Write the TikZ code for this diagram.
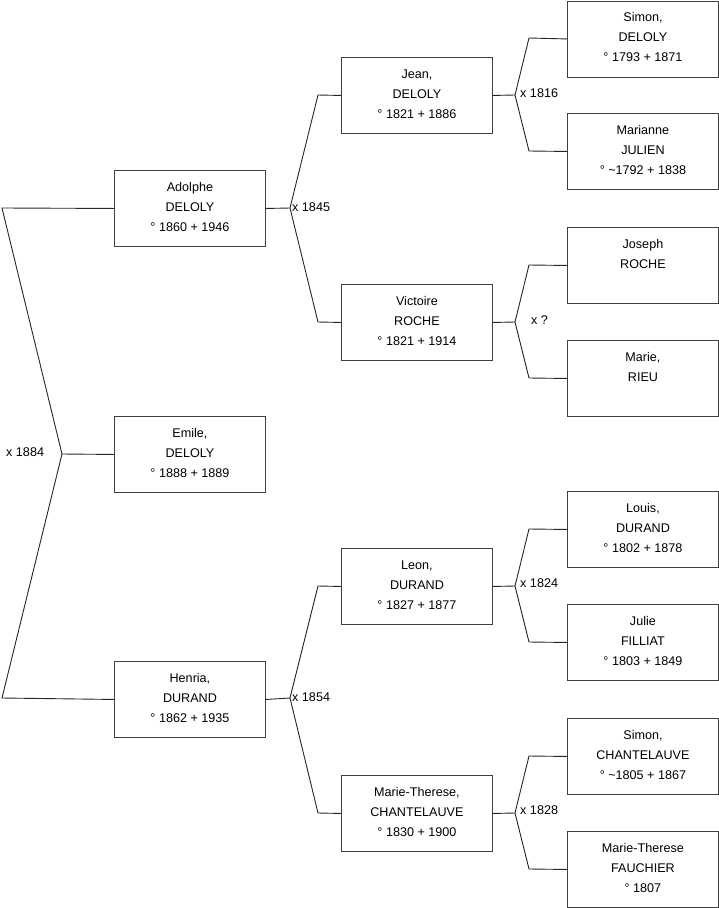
\documentclass[tikz,border=0pt]{standalone}
\usepackage{fontspec}
\setmainfont{Liberation Sans}
\newcommand{\personbox}[1]{\parbox[t][76pt][t]{151pt}{\centering\fontsize{12.6}{20}\selectfont\rule{0pt}{21pt}#1}}
\tikzset{
  person/.style={draw=black!75, line width=0.9pt, inner sep=0pt, anchor=north west, fill=white},
  link/.style={draw=black!85, line width=0.9pt},
  marr/.style={inner sep=0pt, anchor=west, font=\fontsize{12.6}{14}\selectfont}
}
\begin{document}
\begin{tikzpicture}[x=1pt,y=-1pt]
\useasboundingbox (0,0) rectangle (719,908);
% column 1
\node[person] (adolphe) at (114,170) {\personbox{Adolphe\\DELOLY\\° 1860 + 1946}};
\node[person] (emile) at (114,416) {\personbox{Emile,\\DELOLY\\° 1888 + 1889}};
\node[person] (henria) at (114,661) {\personbox{Henria,\\DURAND\\° 1862 + 1935}};
% column 2
\node[person] (jean) at (341,57) {\personbox{Jean,\\DELOLY\\° 1821 + 1886}};
\node[person] (victoire) at (341,284) {\personbox{Victoire\\ROCHE\\° 1821 + 1914}};
\node[person] (leon) at (341,548) {\personbox{Leon,\\DURAND\\° 1827 + 1877}};
\node[person] (mtherese) at (341,775) {\personbox{Marie-Therese,\\CHANTELAUVE\\° 1830 + 1900}};
% column 3
\node[person] (simon) at (567,0.5) {\personbox{Simon,\\DELOLY\\° 1793 + 1871}};
\node[person] (marianne) at (567,113) {\personbox{Marianne\\JULIEN\\° \textasciitilde1792 + 1838}};
\node[person] (joseph) at (567,227) {\personbox{Joseph\\ROCHE}};
\node[person] (marie) at (567,340) {\personbox{Marie,\\RIEU}};
\node[person] (louis) at (567,491) {\personbox{Louis,\\DURAND\\° 1802 + 1878}};
\node[person] (julie) at (567,604) {\personbox{Julie\\FILLIAT\\° 1803 + 1849}};
\node[person] (simonc) at (567,718) {\personbox{Simon,\\CHANTELAUVE\\° \textasciitilde1805 + 1867}};
\node[person] (mthereseF) at (567,831) {\personbox{Marie-Therese\\FAUCHIER\\° 1807}};

% junction points
\coordinate (j0) at (62,454);
\coordinate (j0a) at (2,208);
\coordinate (j0b) at (2,698);
\coordinate (j1) at (290,208);
\coordinate (j1a) at (318,95);
\coordinate (j1b) at (318,322);
\coordinate (j2) at (290,698);
\coordinate (j2a) at (318,586);
\coordinate (j2b) at (318,813);
\coordinate (j3) at (515,95);
\coordinate (j3a) at (529,38);
\coordinate (j3b) at (529,151);
\coordinate (j4) at (515,322);
\coordinate (j4a) at (529,265);
\coordinate (j4b) at (529,378);
\coordinate (j5) at (515,586);
\coordinate (j5a) at (529,529);
\coordinate (j5b) at (529,642);
\coordinate (j6) at (515,813);
\coordinate (j6a) at (529,756);
\coordinate (j6b) at (529,869);

% connectors
\draw[link] (emile.west) -- (j0);
\draw[link] (adolphe.west) -- (j0a) -- (j0) -- (j0b) -- (henria.west);
\draw[link] (adolphe.east) -- (j1);
\draw[link] (jean.west) -- (j1a) -- (j1) -- (j1b) -- (victoire.west);
\draw[link] (henria.east) -- (j2);
\draw[link] (leon.west) -- (j2a) -- (j2) -- (j2b) -- (mtherese.west);
\draw[link] (jean.east) -- (j3);
\draw[link] (simon.west) -- (j3a) -- (j3) -- (j3b) -- (marianne.west);
\draw[link] (victoire.east) -- (j4);
\draw[link] (joseph.west) -- (j4a) -- (j4) -- (j4b) -- (marie.west);
\draw[link] (leon.east) -- (j5);
\draw[link] (louis.west) -- (j5a) -- (j5) -- (j5b) -- (julie.west);
\draw[link] (mtherese.east) -- (j6);
\draw[link] (simonc.west) -- (j6a) -- (j6) -- (j6b) -- (mthereseF.west);

% marriage labels
\node[marr] (m0) at (6,452) {x 1884};
\node[marr] (m1) at (292,207) {x 1845};
\node[marr] (m2) at (292,697) {x 1854};
\node[marr] (m3) at (520,93) {x 1816};
\node[marr] (m4) at (531,320) {x ?};
\node[marr] (m5) at (520,583) {x 1824};
\node[marr] (m6) at (520,810) {x 1828};
\end{tikzpicture}
\end{document}
